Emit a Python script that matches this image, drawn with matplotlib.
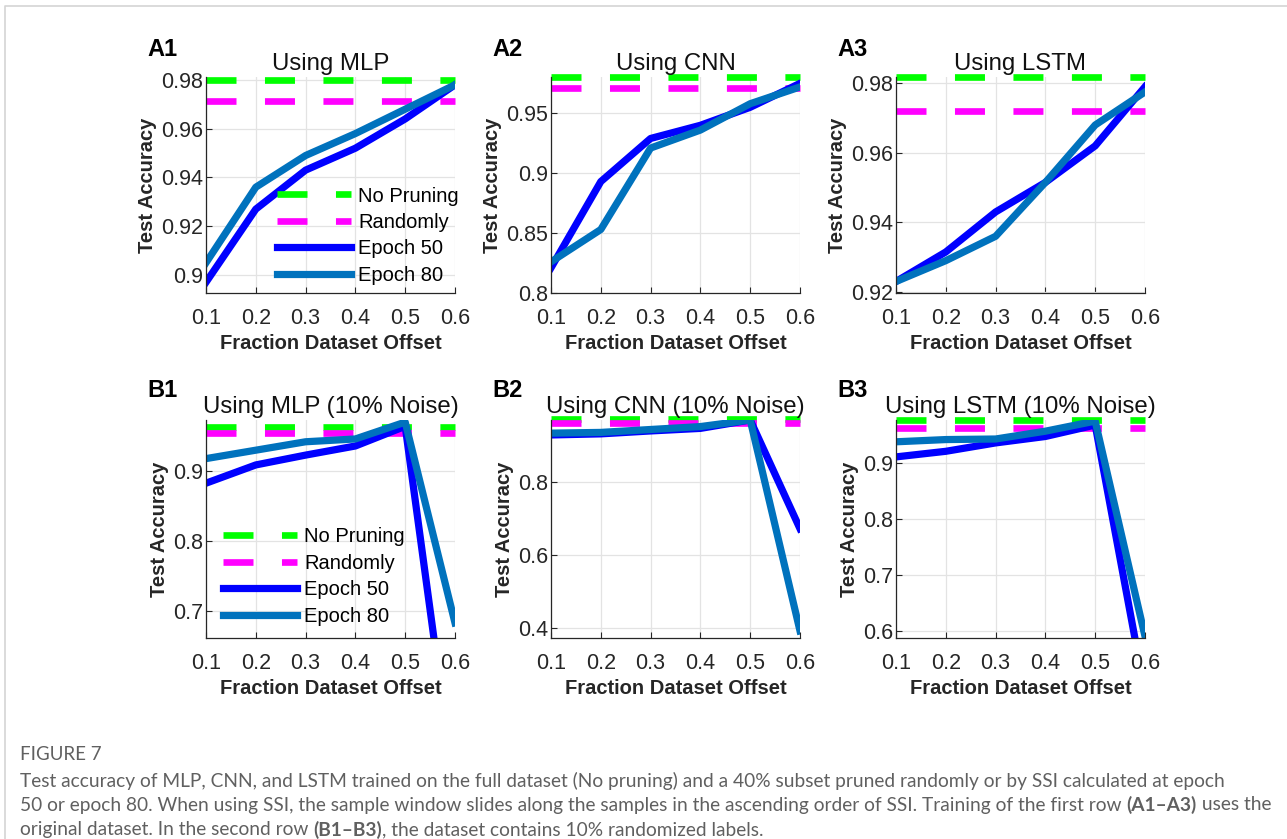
import numpy as np
import matplotlib
matplotlib.use('Agg')
import matplotlib.pyplot as plt
from matplotlib.lines import Line2D

plt.rcParams['font.family'] = ['Liberation Sans', 'DejaVu Sans']
plt.rcParams['lines.scale_dashes'] = False

# ==========================================
# data
# ==========================================
frac = [0.1, 0.2, 0.3, 0.4, 0.5, 0.6]

# first row: original dataset
mlp_e50 = [0.897, 0.927, 0.943, 0.952, 0.964, 0.978]
mlp_e80 = [0.905, 0.936, 0.949, 0.958, 0.968, 0.978]
mlp_nopr, mlp_rand = 0.980, 0.9715

cnn_e50 = [0.821, 0.893, 0.929, 0.940, 0.955, 0.975]
cnn_e80 = [0.826, 0.853, 0.921, 0.936, 0.958, 0.972]
cnn_nopr, cnn_rand = 0.980, 0.9713

lstm_e50 = [0.923, 0.9315, 0.943, 0.9515, 0.962, 0.979]
lstm_e80 = [0.923, 0.929, 0.936, 0.9515, 0.968, 0.9775]
lstm_nopr, lstm_rand = 0.9817, 0.9719

# second row: 10% randomized labels
mlpn_e50 = [0.882, 0.908, 0.922, 0.935, 0.963, 0.44]
mlpn_e80 = [0.917, 0.929, 0.941, 0.945, 0.969, 0.683]
mlpn_nopr, mlpn_rand = 0.9627, 0.953

cnnn_e50 = [0.930, 0.933, 0.941, 0.948, 0.971, 0.673]
cnnn_e80 = [0.935, 0.937, 0.945, 0.953, 0.971, 0.393]
cnnn_nopr, cnnn_rand = 0.975, 0.963

lstmn_e50 = [0.911, 0.921, 0.936, 0.9475, 0.968, 0.49]
lstmn_e80 = [0.938, 0.942, 0.943, 0.957, 0.975, 0.59]
lstmn_nopr, lstmn_rand = 0.977, 0.963

panel_names = ['A1', 'A2', 'A3', 'B1', 'B2', 'B3']
titles = ['Using MLP', 'Using CNN', 'Using LSTM',
          'Using MLP (10% Noise)', 'Using CNN (10% Noise)', 'Using LSTM (10% Noise)']
xticks = [0.1, 0.2, 0.3, 0.4, 0.5, 0.6]
yticks_list = [
    [0.9, 0.92, 0.94, 0.96, 0.98],
    [0.8, 0.85, 0.9, 0.95],
    [0.92, 0.94, 0.96, 0.98],
    [0.7, 0.8, 0.9],
    [0.4, 0.6, 0.8],
    [0.6, 0.7, 0.8, 0.9],
]
ylims = [(0.8926, 0.9812), (0.8, 0.9803), (0.9197, 0.9818),
         (0.6615, 0.972), (0.3735, 0.971), (0.587, 0.977)]

series = [
    (mlp_nopr, mlp_rand, mlp_e50, mlp_e80),
    (cnn_nopr, cnn_rand, cnn_e50, cnn_e80),
    (lstm_nopr, lstm_rand, lstm_e50, lstm_e80),
    (mlpn_nopr, mlpn_rand, mlpn_e50, mlpn_e80),
    (cnnn_nopr, cnnn_rand, cnnn_e50, cnnn_e80),
    (lstmn_nopr, lstmn_rand, lstmn_e50, lstmn_e80),
]

C_NOPR = '#00FF00'
C_RAND = '#FF00FF'
C_E50 = '#0000FF'
C_E80 = '#0072BD'
DASH = (21.6, 20.5)

# ==========================================
# layout (pixel based)
# ==========================================
W, H = 1287, 839
fig = plt.figure(figsize=(W / 100, H / 100), dpi=100)

lefts = [206, 551, 896]
ax_w = 249
rows = [(77, 293), (420, 638)]


def px_axes(left, top, bottom):
    return [left / W, 1 - bottom / H, ax_w / W, (bottom - top) / H]


axes = []
for r, (top, bottom) in enumerate(rows):
    for c in range(3):
        axes.append(fig.add_axes(px_axes(lefts[c], top, bottom)))

for i, ax in enumerate(axes):
    nopr, rand, e50, e80 = series[i]
    ax.plot([frac[0], frac[-1]], [nopr, nopr], color=C_NOPR, lw=4.8,
            dashes=DASH, dash_capstyle='butt', clip_on=False, label='No Pruning')
    ax.plot([frac[0], frac[-1]], [rand, rand], color=C_RAND, lw=4.8,
            dashes=DASH, dash_capstyle='butt', clip_on=False, label='Randomly')
    ax.plot(frac, e50, color=C_E50, lw=5.2, label='Epoch 50')
    ax.plot(frac, e80, color=C_E80, lw=5.2, label='Epoch 80')

    ax.set_xlim(0.1, 0.6)
    ax.set_ylim(*ylims[i])
    ax.set_xticks(xticks)
    ax.set_xticklabels([f'{v:g}' for v in xticks])
    ax.set_yticks(yticks_list[i])
    ax.set_yticklabels([f'{v:g}' for v in yticks_list[i]])
    ax.tick_params(axis='both', direction='in', length=4, width=0.8,
                   colors='#262626', labelsize=15.5)
    ax.tick_params(axis='x', pad=10.5)
    ax.tick_params(axis='y', pad=2)
    ax.grid(True, color='#e3e3e3', lw=0.9)
    ax.set_axisbelow(True)
    for s in ['top', 'right']:
        ax.spines[s].set_visible(False)
    for s in ['left', 'bottom']:
        ax.spines[s].set_color('#262626')
        ax.spines[s].set_linewidth(0.9)

    ax.set_xlabel('Fraction Dataset Offset', fontsize=14.5, fontweight='bold',
                  color='#262626', labelpad=4)
    ax.set_ylabel('Test Accuracy', fontsize=14.5, fontweight='bold',
                  color='#262626', labelpad=3)
    ax.set_title(titles[i], fontsize=17.3, color='#111111', pad=5)

    c = i % 3
    r = i // 3
    fig.text((lefts[c] - 59) / W, 1 - (50 + r * 340) / H, panel_names[i],
             fontsize=17, fontweight='bold', va='center', ha='left')

# legends in A1 and B1
leg_kw = dict(frameon=False, fontsize=14.5, handlelength=3.7, handletextpad=0.35,
              labelspacing=0.37, borderpad=0, borderaxespad=0, loc='upper left',
              bbox_transform=fig.transFigure)
axes[0].legend(bbox_to_anchor=(276.7 / W, 1 - 186.5 / H), **leg_kw)
axes[3].legend(bbox_to_anchor=(222.7 / W, 1 - 527.5 / H), **leg_kw)

# ==========================================
# page frame and caption
# ==========================================
fig.add_artist(Line2D([4.5 / W, 4.5 / W, 1.0], [0.0, 1 - 5.5 / H, 1 - 5.5 / H],
                      transform=fig.transFigure, color='#d4d4d4', lw=1.2))

cap_font = ['Lato', 'DejaVu Sans']
cap_color = '#606060'
fig.text(20 / W, 1 - 755 / H, 'FIGURE 7', fontsize=13.5, family=cap_font,
         color=cap_color, va='center', ha='left')

cap_lines = [
    [('Test accuracy of MLP, CNN, and LSTM trained on the full dataset (No pruning) and a 40% subset pruned randomly or by SSI calculated at epoch', 'normal')],
    [('50 or epoch 80. When using SSI, the sample window slides along the samples in the ascending order of SSI. Training of the first row ', 'normal'),
     ('(A1\u2013A3)', 'bold'), (' uses the', 'normal')],
    [('original dataset. In the second row ', 'normal'), ('(B1\u2013B3)', 'bold'),
     (', the dataset contains 10% randomized labels.', 'normal')],
]
cap_y = [781, 805, 830]

renderer = fig.canvas.get_renderer()
probe = fig.text(0, 0, cap_lines[0][0][0], fontsize=10, family=cap_font)
probe_w = probe.get_window_extent(renderer).width
probe.remove()
cap_size = 10 * (1228 - 20) / probe_w

for runs, yy in zip(cap_lines, cap_y):
    x = 20.0
    for txt, wt in runs:
        t = fig.text(x / W, 1 - yy / H, txt, fontsize=cap_size, family=cap_font,
                     fontweight=wt, color=cap_color, va='center', ha='left')
        x += t.get_window_extent(renderer).width

fig.savefig('out.png', dpi=100)
